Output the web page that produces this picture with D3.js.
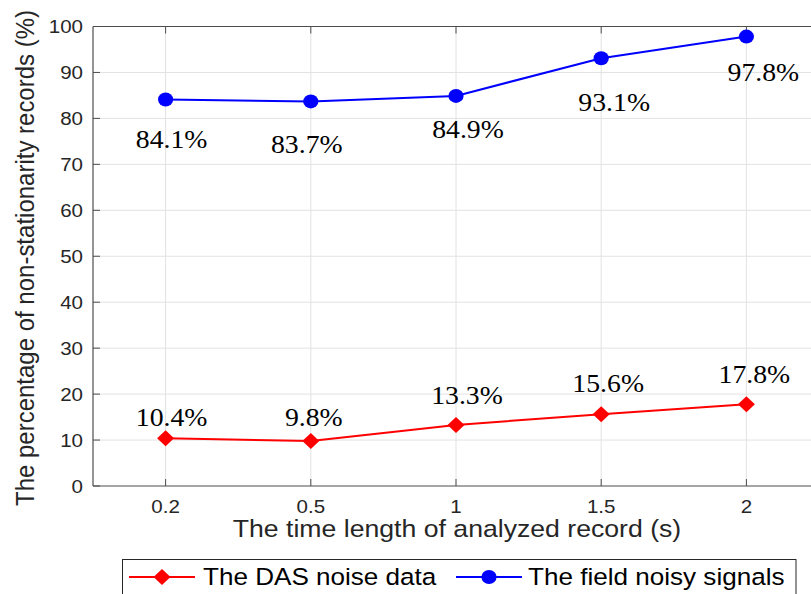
<!DOCTYPE html>
<html>
<head>
<meta charset="utf-8">
<script src="https://cdn.jsdelivr.net/npm/d3@7"></script>
<style>
  html, body { margin: 0; padding: 0; background: #fff; }
  svg { display: block; }
  .sans { font-family: "Liberation Sans", Arial, Helvetica, sans-serif; }
  .lbl { font-family: "Liberation Serif", "Times New Roman", Times, serif; }
</style>
</head>
<body>
<div id="chart"></div>
<script>
// ---- data ----
const categories = ["0.2", "0.5", "1", "1.5", "2"];
const dasValues = [10.4, 9.8, 13.3, 15.6, 17.8];
const fieldValues = [84.1, 83.7, 84.9, 93.1, 97.8];
const dasLabels = ["10.4%", "9.8%", "13.3%", "15.6%", "17.8%"];
const fieldLabels = ["84.1%", "83.7%", "84.9%", "93.1%", "97.8%"];
const yTicks = [0, 10, 20, 30, 40, 50, 60, 70, 80, 90, 100];
const seriesNames = ["The DAS noise data", "The field noisy signals"];

// label placement offsets (pixels, relative to marker)
const dasLabelOffset = [[6, -12], [3, -15], [11, -21], [7, -22], [8, -21]];
const fieldLabelOffset = [[6, 48], [-4, 52], [12, 42], [13, 53], [17, 44]];

// ---- layout ----
const W = 811, H = 594;
const plot = { left: 93, right: 819, top: 26.5, bottom: 486 };
const SX = 1.11; // horizontal text stretch
const axisColor = "#4d4d4d";
const gridColor = "#e2e2e2";

const svg = d3.select("#chart").append("svg").attr("width", W).attr("height", H).style("overflow", "hidden");
const x = d3.scalePoint().domain(categories).range([plot.left, plot.right]).padding(0.5);
const y = d3.scaleLinear().domain([0, 100]).range([plot.bottom, plot.top]);

function stretchedText(g, px, py, txt, opts) {
  return g.append("text")
    .attr("class", opts.cls || "sans")
    .attr("transform", `translate(${px},${py}) scale(${SX},1)` + (opts.rotate ? ` rotate(${opts.rotate})` : ""))
    .attr("text-anchor", opts.anchor || "middle")
    .attr("font-size", opts.size)
    .attr("fill", opts.fill || "#262626")
    .text(txt);
}

// ---- grid ----
const grid = svg.append("g");
grid.selectAll("line.hg").data(yTicks.filter(d => d > 0 && d < 100)).join("line")
  .attr("x1", plot.left).attr("x2", plot.right).attr("y1", d => y(d)).attr("y2", d => y(d))
  .attr("stroke", gridColor).attr("stroke-width", 1);
grid.selectAll("line.vg").data(categories).join("line")
  .attr("x1", d => x(d)).attr("x2", d => x(d)).attr("y1", plot.top).attr("y2", plot.bottom)
  .attr("stroke", gridColor).attr("stroke-width", 1);

// ---- axes box ----
const ax = svg.append("g");
ax.append("line").attr("x1", plot.left).attr("x2", plot.right).attr("y1", plot.bottom).attr("y2", plot.bottom).attr("stroke", axisColor).attr("stroke-width", 1.2);
ax.append("line").attr("x1", plot.left).attr("x2", plot.right).attr("y1", plot.top).attr("y2", plot.top).attr("stroke", axisColor).attr("stroke-width", 1.2);
ax.append("line").attr("x1", plot.left).attr("x2", plot.left).attr("y1", plot.top).attr("y2", plot.bottom).attr("stroke", axisColor).attr("stroke-width", 1.2);
ax.selectAll("line.yt").data(yTicks).join("line").attr("x1", plot.left).attr("x2", plot.left + 7)
  .attr("y1", d => y(d)).attr("y2", d => y(d)).attr("stroke", axisColor);
ax.selectAll("line.xtb").data(categories).join("line").attr("x1", d => x(d)).attr("x2", d => x(d))
  .attr("y1", plot.bottom).attr("y2", plot.bottom - 7).attr("stroke", axisColor);
ax.selectAll("line.xtt").data(categories).join("line").attr("x1", d => x(d)).attr("x2", d => x(d))
  .attr("y1", plot.top).attr("y2", plot.top + 7).attr("stroke", axisColor);

// tick labels
yTicks.forEach(d => stretchedText(ax, 83, y(d) + 6.5, d, { anchor: "end", size: 18.5 }));
categories.forEach(d => stretchedText(ax, x(d), 513, d, { anchor: "middle", size: 18.5 }));

// axis titles
stretchedText(svg, 457, 537, "The time length of analyzed record (s)", { size: 24 });
stretchedText(svg, 34, 258, "The percentage of non-stationarity records (%)", { size: 24, rotate: -90 });

// ---- series ----
const line = d3.line().x((d, i) => x(categories[i])).y(d => y(d));
const diamond = (cx, cy) => `M${cx},${cy - 8}L${cx + 8.5},${cy}L${cx},${cy + 8}L${cx - 8.5},${cy}Z`;
svg.append("path").datum(fieldValues).attr("d", line).attr("fill", "none").attr("stroke", "#0000ff").attr("stroke-width", 2);
svg.selectAll("ellipse.f").data(fieldValues).join("ellipse").attr("cx", (d, i) => x(categories[i])).attr("cy", d => y(d))
  .attr("rx", 7.6).attr("ry", 7).attr("fill", "#0000ff");
svg.append("path").datum(dasValues).attr("d", line).attr("fill", "none").attr("stroke", "#ff0000").attr("stroke-width", 2);
svg.selectAll("path.d").data(dasValues).join("path").attr("d", (d, i) => diamond(x(categories[i]), y(d))).attr("fill", "#ff0000");

// data labels
fieldValues.forEach((d, i) => stretchedText(svg, x(categories[i]) + fieldLabelOffset[i][0], y(d) + fieldLabelOffset[i][1],
  fieldLabels[i], { size: 25, cls: "lbl", fill: "#000" }));
dasValues.forEach((d, i) => stretchedText(svg, x(categories[i]) + dasLabelOffset[i][0], y(d) + dasLabelOffset[i][1],
  dasLabels[i], { size: 25, cls: "lbl", fill: "#000" }));

// ---- legend ----
const lg = svg.append("g");
lg.append("rect").attr("x", 122.5).attr("y", 559.5).attr("width", 673.5).attr("height", 60).attr("fill", "#fff").attr("stroke", "#262626");
const ly = 577;
lg.append("line").attr("x1", 129).attr("x2", 195).attr("y1", ly).attr("y2", ly).attr("stroke", "#ff0000").attr("stroke-width", 2);
lg.append("path").attr("d", diamond(162, ly)).attr("fill", "#ff0000");
stretchedText(lg, 203, 585, seriesNames[0], { anchor: "start", size: 23.5, fill: "#000" });
lg.append("line").attr("x1", 456).attr("x2", 522).attr("y1", ly).attr("y2", ly).attr("stroke", "#0000ff").attr("stroke-width", 2);
lg.append("ellipse").attr("cx", 489).attr("cy", ly).attr("rx", 7.6).attr("ry", 7).attr("fill", "#0000ff");
stretchedText(lg, 528, 585, seriesNames[1], { anchor: "start", size: 23.5, fill: "#000" });
</script>
</body>
</html>
